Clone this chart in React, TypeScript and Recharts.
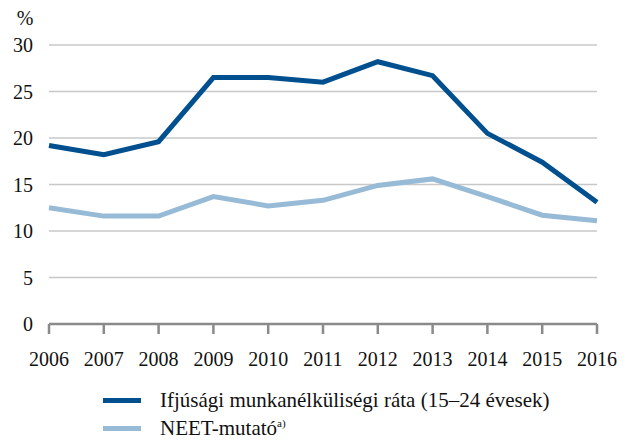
import React from 'react';
import { LineChart, Line, XAxis, YAxis, CartesianGrid } from 'recharts';

const years = ['2006', '2007', '2008', '2009', '2010', '2011', '2012', '2013', '2014', '2015', '2016'];
const youthUnemployment = [19.2, 18.2, 19.6, 26.5, 26.5, 26.0, 28.2, 26.7, 20.5, 17.4, 13.1];
const neet = [12.5, 11.6, 11.6, 13.7, 12.7, 13.3, 14.9, 15.6, 13.7, 11.7, 11.1];
const yTicks = [0, 5, 10, 15, 20, 25, 30];
const seriesNames = ['Ifjúsági munkanélküliségi ráta (15–24 évesek)', 'NEET-mutató'];

const data = years.map((y, i) => ({ year: y, a: youthUnemployment[i], b: neet[i] }));

const FONT = '"Liberation Serif", "Times New Roman", serif';
const DARK = '#00508f';
const LIGHT = '#97bad6';

const LegendBlock = () => (
  <div style={{ position: 'absolute', left: 103, top: 386, fontFamily: FONT, fontSize: 21, color: '#111' }}>
    {[DARK, LIGHT].map((c, i) => (
      <div key={i} style={{ display: 'flex', alignItems: 'center', height: 28, whiteSpace: 'nowrap' }}>
        <div style={{ width: 38, height: 5, background: c, marginRight: 19 }} />
        <span>
          {seriesNames[i]}
          {i === 1 ? <sup style={{ fontSize: 11 }}>a)</sup> : null}
        </span>
      </div>
    ))}
  </div>
);

export default function App() {
  return (
    <div style={{ position: 'absolute', left: 0, top: 0, width: 632, height: 440, background: '#fff' }}>
      <LineChart width={632} height={440} data={data} margin={{ top: 45, right: 35, left: 0, bottom: 76 }}>
        <CartesianGrid vertical={false} stroke="#c8c8c8" strokeWidth={1.5} />
        <XAxis
          dataKey="year"
          height={40}
          axisLine={{ stroke: '#8a8a8a', strokeWidth: 2.5 }}
          tickLine={{ stroke: '#8a8a8a', strokeWidth: 2.5 }}
          tickSize={10}
          tickMargin={18}
          interval={0}
          tick={{ fill: '#111', fontSize: 20, fontFamily: FONT }}
        />
        <YAxis
          width={49}
          domain={[0, 30]}
          ticks={yTicks}
          axisLine={false}
          tickLine={false}
          tickMargin={10}
          tick={{ fill: '#111', fontSize: 20, fontFamily: FONT }}
          label={{
            content: () => (
              <text x={25} y={25} textAnchor="middle" fontSize={20} fontFamily={FONT} fill="#111">%</text>
            ),
          }}
        />
        <Line type="linear" dataKey="b" stroke={LIGHT} strokeWidth={5} dot={false} isAnimationActive={false} />
        <Line type="linear" dataKey="a" stroke={DARK} strokeWidth={5} dot={false} isAnimationActive={false} />
      </LineChart>
      <LegendBlock />
    </div>
  );
}
